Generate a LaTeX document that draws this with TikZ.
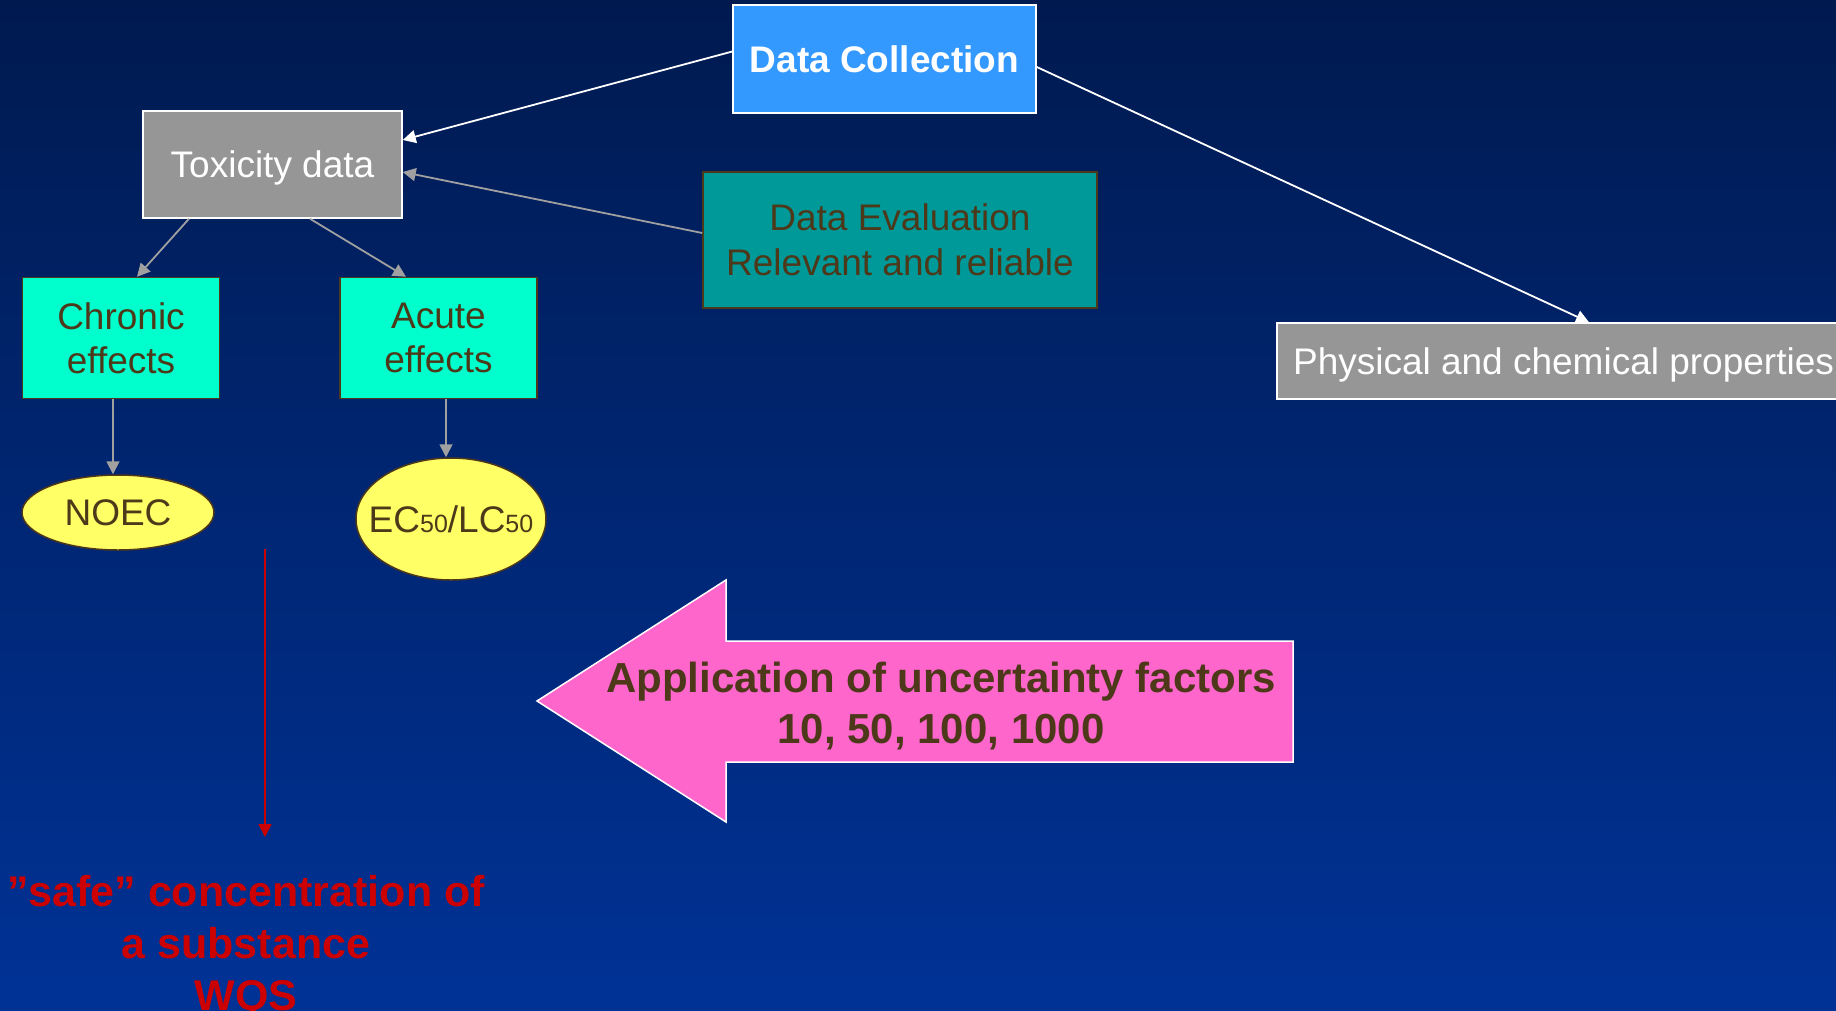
\documentclass[tikz,border=0pt]{standalone}
\usepackage{fontspec}
\setmainfont{Liberation Sans}
\usetikzlibrary{arrows.meta,shapes.geometric}

\definecolor{bgtop}{HTML}{001A50}
\definecolor{bgbot}{HTML}{003296}
\definecolor{skyblue}{HTML}{3399FF}
\definecolor{boxgray}{HTML}{969696}
\definecolor{aqua}{HTML}{00FFCC}
\definecolor{tealbox}{HTML}{009999}
\definecolor{lemon}{HTML}{FFFF66}
\definecolor{pinkarrow}{HTML}{FF66CC}
\definecolor{umber}{HTML}{4D3819}
\definecolor{wqsred}{HTML}{CC0000}
\definecolor{linegray}{HTML}{A0A0A0}

\newcommand{\dgmfont}{\fontsize{37}{45}\selectfont}
\newcommand{\smallsub}[1]{{\fontsize{25}{25}\selectfont #1}}

\begin{document}
\begin{tikzpicture}[x=1pt,y=-1pt,
  box/.style={rectangle, inner sep=0pt, align=center, line width=1.5pt,
    text depth=0pt, font=\dgmfont},
  graybox/.style={box, fill=boxgray, draw=white, text=white},
  bluebox/.style={box, fill=skyblue, draw=white, text=white, font=\dgmfont\bfseries},
  effbox/.style={box, fill=aqua, draw=umber, text=umber, font=\fontsize{37}{44}\selectfont},
  evalbox/.style={box, fill=tealbox, draw=umber, text=umber},
  yellowoval/.style={ellipse, inner sep=0pt, fill=lemon, draw=umber, text=umber,
    line width=1.5pt, text depth=0pt, font=\dgmfont},
  wire/.style={line width=1.8pt, -{Triangle[length=13pt,width=13pt]}},
  whitewire/.style={wire, draw=white},
  greywire/.style={wire, draw=linegray},
  redwire/.style={wire, draw=wqsred, line width=1.5pt},
]
\useasboundingbox (0,0) rectangle (1836,1010);
\clip (0,0) rectangle (1836,1010);

% background gradient
\shade[top color=bgtop, bottom color=bgbot] (0,0) rectangle (1836,1010);

% boxes
\node[bluebox, minimum width=303pt, minimum height=108pt] (dc) at (884.5,59) {Data Collection};
\node[graybox, minimum width=259pt, minimum height=107pt] (tox) at (272.5,164.5) {Toxicity data};
\node[evalbox, minimum width=394pt, minimum height=136pt] (eval) at (900,240)
  {Data Evaluation\\Relevant and reliable};
\node[graybox, minimum width=573pt, minimum height=76pt] (phys) at (1563.5,361)
  {Physical and chemical properties};
\node[effbox, minimum width=197pt, minimum height=121pt] (chronic) at (121,338) {Chronic\\effects};
\node[effbox, minimum width=197pt, minimum height=121pt] (acute) at (438.5,338) {Acute\\effects};

% endpoints (the label of the wide oval overhangs its outline slightly)
\node[yellowoval, minimum width=192pt, minimum height=75pt] (noec) at (118,512.5) {NOEC};
\node[yellowoval, minimum width=190pt, minimum height=122pt] (ec) at (451,519)
  {\makebox[0pt]{EC\smallsub{50}/LC\smallsub{50}}};

% connectors
\draw[whitewire] ([yshift=7.5pt]dc.west) -- ([yshift=24.5pt]tox.east);
\draw[whitewire] ([yshift=-8pt]dc.east) -- ([xshift=25.5pt]phys.north);
\draw[greywire] ([yshift=7pt]eval.west) -- ([yshift=-7.5pt]tox.east);
\draw[greywire] ([xshift=-83.5pt]tox.south) -- ([xshift=16pt]chronic.north);
\draw[greywire] ([xshift=37.5pt]tox.south) -- ([xshift=-32.5pt]acute.north);
\draw[greywire] ([xshift=-8pt]chronic.south) -- ([xshift=-8pt]chronic.south |- noec.north);
\draw[greywire] ([xshift=7.5pt]acute.south) -- ([xshift=7.5pt]acute.south |- ec.north);

% uncertainty factor arrow
\draw[fill=pinkarrow, draw=white, line width=1.5pt, line join=miter]
  (537,701) -- (726,580) -- (726,641) -- (1293,641) -- (1293,762) -- (726,762) -- (726,822) -- cycle;
\node[align=center, text=umber, inner sep=0pt, font=\fontsize{42}{51}\selectfont\bfseries] (uf)
  at (941,706.5) {Application of uncertainty factors\\10, 50, 100, 1000};

% result
\coordinate (rtop) at (265,549);
\coordinate (rend) at (265,837);
\draw[redwire] (rtop) -- (rend);
\node[align=center, text=wqsred, inner sep=0pt, font=\fontsize{43}{52}\selectfont\bfseries] (wqs)
  at (246,947) {”safe” concentration of\\a substance\\WQS};
\end{tikzpicture}
\end{document}
